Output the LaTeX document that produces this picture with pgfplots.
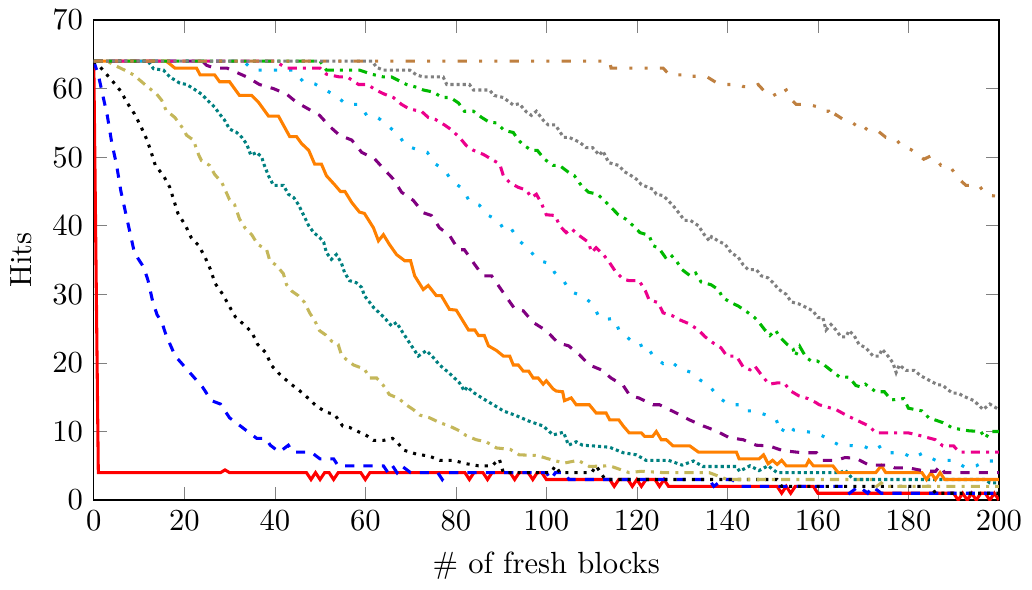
\documentclass[border=0pt]{standalone}
\usepackage{pgfplots}
\pgfplotsset{compat=1.18}
\definecolor{cOlive}{RGB}{196,183,90}
\definecolor{cTeal}{RGB}{0,128,128}
\definecolor{cOrange}{RGB}{255,128,0}
\definecolor{cViolet}{RGB}{128,0,128}
\definecolor{cCyan}{RGB}{0,176,240}
\definecolor{cMagenta}{RGB}{236,0,140}
\definecolor{cGreen}{RGB}{0,185,0}
\definecolor{cGray}{RGB}{128,128,128}
\definecolor{cBrown}{RGB}{191,128,64}
\begin{document}
\begin{tikzpicture}
\begin{axis}[
  scale only axis,
  width=296pt, height=157pt,
  xmin=0, xmax=200, ymin=0, ymax=70,
  xtick={0,20,...,200}, ytick={0,10,...,70},
  xlabel={\# of fresh blocks}, ylabel={Hits},
]
\addplot[line width=1pt, red] coordinates {(0,64)(1,4)(28,4)(29,4.4)(30,4)(47,4)(48,3)(49,4)(50,3)(51,4)(52,4)(53,3)(54,4)(59,4)(60,3)(61,4)(82,4)(83,3)(84,4)(86,4)(87,3)(88,4)(92,4)(93,3)(94,4)(96,4)(97,3)(98,4)(99,4)(100,3)(114,3)(115,2)(116,3)(118,3)(119,2)(120,3)(121,2)(122,3)(124,3)(125,2)(126,3)(127,2)(151,2)(152,1)(153,2)(154,1)(155,2)(159,2)(160,1)(190,1)(191,0)(192,1)(193,0)(194,1)(195,0)(196,1)(197,1)(198,0)(199,1)(200,0)};
\addplot[line width=1pt, blue, dashed] coordinates {(0,64)(1,62)(2,59)(3,56)(4,52)(5,49)(6,45)(7,42)(8,39)(9,36)(10,35)(11,34)(12,32)(13,29)(14,27)(15,26)(16,24)(17,22.5)(18,21)(20,19.5)(22,18)(24,16.5)(26,14.5)(28,14)(30,12)(32,11)(34,10)(36,9)(38,9)(39,8)(41,7)(43,8)(44,7)(48,7)(50,6)(53,6)(54,5)(56,5)(60,5)(64,5)(65,4)(66,5)(67,4)(68,5)(70,4)(76,4)(77,3)(78,4)(100,4)(101,3)(102,4)(104,4)(105,3)(136,3)(137,2)(139,3)(141,3)(143,2)(166,2)(167,1)(169,2)(171,1)(172,2)(174,1)(200,1)};
\addplot[line width=1pt, black, dotted] coordinates {(0,64)(1,63.5)(2,62.7)(4,61.2)(6,59.6)(7.4,57.9)(9,56.3)(10.4,54.5)(11.7,52.6)(12.6,50.9)(13.6,48.8)(15.4,47.3)(16.8,45.6)(17.7,43.7)(18.6,41.8)(20.3,40)(21.5,38.3)(23.2,37.1)(24.6,35.4)(25.8,33.6)(26.8,31.6)(28.5,30)(30,28.2)(31.3,26.7)(33,25.7)(34.9,24.5)(36.2,22.7)(38,21.5)(39.3,19.6)(41,18.4)(43.2,17.1)(45.4,16)(47.3,14.9)(49.2,13.7)(51.4,12.8)(53.2,12.5)(55,10.8)(56.5,10.6)(58.7,9.9)(60.3,9.4)(61.8,8.7)(64,8.7)(66,9)(67,8.5)(68.4,7.3)(71.3,6.7)(74.2,6.4)(76.4,5.8)(79.4,5.8)(82.3,5.3)(85,5)(88,5)(89.6,6)(90.5,4)(101,4)(102,5)(103,4)(110,4)(111,5)(112,4)(113,3)(151,3)(152,2)(185,2)(186,1)(200,1)};
\addplot[line width=1pt, cOlive, dashdotted] coordinates {(0,64)(3,64)(4.6,63.4)(6.8,62.7)(8.8,62)(12,60.2)(13.9,59.2)(15,58.3)(16,56.8)(17.9,55.8)(19.8,54.1)(20.5,53.2)(22,52.5)(23.2,50.3)(23.8,49.5)(25.6,48.8)(26.7,47.5)(28.3,46.3)(30,43.8)(31.1,43.1)(32.2,41)(33.4,39.7)(34.9,38.7)(36.2,37.3)(38.2,36.5)(38.9,34.9)(40.4,34.2)(41.9,33)(42.6,31.4)(43.7,30.5)(45.2,29.8)(46.6,28.8)(47.7,27.3)(48.8,26.2)(49.9,24.7)(51.2,24.1)(52.5,23.2)(54,22.7)(54.7,21.2)(55.8,20.5)(57.4,19.7)(59.8,19.1)(61,17.8)(62.5,17.8)(64,16.7)(65.3,15.4)(67.4,14.8)(69,13.9)(70.6,13.2)(72,12.4)(74.2,12)(76.4,11.3)(78.6,10.8)(80.8,10.1)(82.3,9.4)(84.5,8.8)(86.7,8.5)(89,7.6)(92,7.4)(94,6.6)(98,6.5)(101.5,5.8)(104,5.4)(107,5.8)(109.5,4.9)(114,5)(118.3,4)(121,4.2)(126,4)(136,4)(140,3)(172,3)(173,2)(174,2.5)(175,2)(200,2)};
\addplot[line width=1pt, cTeal, densely dotted] coordinates {(0,64)(12,64)(13.2,62.9)(15.4,62.7)(16.8,61.7)(19,60.8)(20.5,60.6)(22,60)(23.8,59.2)(25.6,58)(26.7,57.3)(27.8,56.3)(28.9,55.4)(30,54.1)(31.6,53.6)(32.7,52.9)(33.8,51.9)(34.7,50.3)(36,50.7)(37.1,50)(37.7,48.8)(38.6,47.3)(39.7,45.9)(41.9,45.9)(43,44.6)(44.2,44.1)(45.3,43)(46.4,41.5)(47.5,40)(48.6,39)(49.9,38.3)(50.8,37.6)(51.4,36.1)(52.5,35.1)(53.6,35.8)(54.7,34.6)(55.4,33.2)(56.5,32)(58,31.7)(59.2,31)(59.8,29.8)(61,28.8)(61.8,28.1)(63.1,27.3)(64.2,26.6)(65.8,25.4)(66.9,25.9)(68.2,24.5)(69.5,23.2)(71.7,21)(73.5,21.8)(75,20.8)(76.4,19.7)(78.4,18.6)(80.8,17.1)(81.9,15.9)(82.5,16.5)(84.1,15.6)(86,14.8)(88.3,13.9)(90.5,13)(93.4,12.3)(96.2,11.5)(99.3,10.8)(101.5,9.5)(103.8,9.9)(104.9,8)(106.6,8.5)(108,8)(110.4,7.9)(114,7.7)(117,6.9)(119.9,6.6)(122,5.8)(127,5.8)(130,5.1)(132.5,5.7)(134.6,4.9)(142,4.9)(142.7,4.2)(145,5)(147,4.3)(149,5)(151,4)(165,4)(166,4.4)(167.8,3)(197,3)(198,2.5)(200,2.5)};
\addplot[line width=1pt, cOrange] coordinates {(0,64)(16,64)(16.8,63.6)(17.9,63)(22.7,63)(23.5,62)(26.7,62)(27.8,61)(30,61)(31.1,60)(32.2,59)(34.9,59)(36.4,58)(38.6,56)(40.8,56)(43.3,53)(44.8,53)(45.9,52)(47.5,51)(48.8,49)(50.3,49)(51.4,47.3)(53.2,46)(54.5,45)(55.5,45)(57,43.4)(58.7,42)(59.8,41.8)(61.8,39.7)(62.9,37.8)(64,38.7)(65.3,37.3)(66.9,35.8)(68.7,34.9)(70,34.9)(70.9,32.7)(72.8,30.7)(73.9,31.3)(75.7,29.8)(76.8,29.8)(78.6,27.8)(80.1,27.7)(82.8,24.8)(84.2,24.8)(85,24)(86.3,24)(87.2,22.5)(89,21.8)(90.5,21)(91.9,21)(92.7,19.7)(93.8,19.7)(94.9,18.8)(96.1,18.8)(97.1,17.8)(98.2,17.8)(99.3,16.9)(100,17.4)(101.5,16.2)(102.2,15.9)(103.6,15.8)(104,14.5)(105.5,14.9)(106.6,13.9)(109.5,13.9)(111,12.7)(113.2,12.7)(114,11.7)(116,11.7)(117,10.8)(118.3,9.8)(121,9.8)(121.7,9.3)(123.5,9.3)(124.3,10)(125.4,8.8)(126.5,8.8)(128,7.9)(131.7,7.9)(133.6,7)(142,7)(142.6,6)(147,6)(148,6.6)(149,5.3)(150,5.8)(151,5.2)(152,5.8)(153,5)(157.4,5)(158,5.8)(159,5)(163.3,5)(164.5,4)(172.8,4)(174,5)(175,4)(183,4)(184,3)(185,4)(186,3)(187,4)(188,3)(200,3)};
\addplot[line width=1pt, cViolet, dashed] coordinates {(0,64)(24,64)(24.9,63.4)(26.7,63)(29.4,63)(33.8,61.7)(36.6,60.6)(39.7,60)(42.6,59.2)(44.8,58)(47.5,57)(49.9,56.1)(52.1,54.5)(54.3,53.2)(57,52.5)(59.2,50.7)(62,49.8)(64.2,48.2)(66.2,46.8)(68,44.9)(70.6,43.7)(72.8,41.9)(74.6,41.5)(76.4,39.7)(78.6,38.6)(80.6,36.5)(81.9,36.5)(83.9,34.6)(86,32.7)(87.9,32.7)(89.7,31)(91.6,29.2)(93,27.9)(94.9,27.6)(97.1,25.9)(100,24.7)(102.6,22.9)(104.9,22.5)(107.3,21.2)(109.5,19.7)(112.1,19)(114.3,17.8)(117,16.7)(118.5,15.2)(120.4,14.9)(123.6,13.9)(125,13.9)(128.7,12.7)(131.6,11.7)(134.7,10.8)(137.5,10.1)(140.4,9.1)(143.5,8.8)(146.4,8)(149.2,7.9)(152.3,7.2)(156.7,6.9)(159.7,6.9)(161,5.8)(164,5.8)(166,6.2)(168.4,6.1)(171.3,5.1)(175.7,5.1)(177,4.7)(180,4.7)(183.9,4.2)(186,4.2)(187,5)(188,4)(200,4)};
\addplot[line width=1pt, cCyan, loosely dotted] coordinates {(0,64)(33,64)(35.3,62.7)(44,62.7)(46.3,61)(48.8,60.7)(51.2,59.8)(53.6,58.9)(55.8,57.7)(58.7,57.7)(60.3,56.1)(62.9,55.7)(65.1,54.5)(67.3,53.3)(68.9,51.7)(71.5,51.1)(73.7,50.7)(75.3,49.1)(77.5,48.1)(79.2,46.5)(81.7,45.3)(83,43.5)(85.2,43)(87.2,41.5)(89.4,40.8)(90.8,39.2)(92.3,39.5)(94,37.8)(96,36.7)(97.6,35.4)(99.1,34.8)(100.7,34.5)(101.8,33.2)(103.8,32)(105.3,30.4)(107.9,29.8)(110.2,28.6)(111.5,26.9)(112.6,26.3)(115,26.5)(116.1,24.7)(118.3,23.5)(120.3,22.4)(121.9,22.8)(123.6,21)(125.8,19.9)(127.4,20.3)(129.6,19.1)(132.2,18.6)(134,17.5)(136,16.7)(138,15)(140.4,13.9)(143,13.9)(144,13)(146,13)(148.6,12.4)(150.8,11.7)(151.9,9.8)(153,11)(154.7,10.2)(159.6,9.8)(161.8,9.1)(164.7,8)(170,7.9)(172.2,7.2)(174,7.9)(175.8,6.9)(178.7,6.9)(181,6.1)(183,6.8)(186,5.8)(190,5.8)(192.7,4.7)(195,5)(197,5.7)(200,5.7)};
\addplot[line width=1pt, cMagenta, dashdotted] coordinates {(0,64)(40,64)(42.6,63)(50,63)(51.4,62.1)(54.3,61.7)(56,61.7)(58.5,60.6)(60.5,60.6)(62.3,59.8)(64.2,59.2)(66.2,58.7)(68,57.7)(69.8,57)(72.4,56.7)(73.9,55.8)(75.5,55.5)(77.5,54.7)(78.8,54.1)(80.8,52.9)(82.3,51.7)(83.9,51)(86.1,50.4)(87.9,49.7)(89.7,49)(90.5,47.3)(91.9,46.3)(93.8,45.6)(95.6,45.2)(96.7,44.1)(97.8,44.6)(98.9,43.3)(100,41.6)(102,41.5)(102.9,40)(104.4,39)(105.5,39.6)(107,38.7)(109.3,37.6)(110,36.1)(111,36.8)(112.6,35.8)(114,34.6)(115.3,33.3)(117,32.2)(118.3,32)(120.5,32)(121.9,30.5)(122.7,29.2)(124.7,28.8)(125.8,27.3)(127.8,26.9)(129.4,26.3)(131.6,25.7)(133.6,24.8)(135.1,23.8)(136.9,22.9)(138.6,22.2)(139.9,21)(142,21)(143.5,19.4)(145,19)(146,19.6)(147.7,18.1)(149.2,16.9)(151.2,17.1)(152.5,17.1)(154,15.9)(155.8,15.2)(157.8,14.8)(159.6,14.2)(160.3,13.9)(164,13.2)(166.2,12.4)(168.4,11.7)(171.3,10.8)(172.8,9.8)(180,9.8)(182,9.5)(186,8.8)(187.6,7.9)(190,7.9)(191.2,7)(200,7)};
\addplot[line width=1pt, cGreen, dashdotdotted] coordinates {(0,64)(50,64)(51.4,62.7)(58.7,62.7)(61.4,62.1)(64,61.7)(65.8,61.7)(67.3,61.2)(69.1,60.6)(71.3,60.2)(72.8,59.8)(75,59.5)(77,58.7)(78.8,58.7)(80.6,57.9)(81.9,56.7)(83.9,56.7)(85.7,55.8)(87.4,55.1)(89,55)(90.7,53.9)(92.7,53.6)(93.8,52.5)(95.1,51.7)(96.7,51)(98,51)(99.6,49.7)(101.5,48.8)(102.9,48.8)(104.9,47.8)(106.2,47.3)(107.7,45.9)(109.3,44.9)(111.3,44.6)(112.6,43.8)(114.3,42.7)(115.9,41.6)(117.5,41)(119.2,40)(120.7,39)(122.7,38.6)(123.6,37.1)(124.9,36.7)(126.3,35.4)(127.3,35.9)(128.7,34.9)(130,33.6)(131.8,32.7)(133,33.1)(134.2,31.8)(136.4,31.4)(138,30.7)(139,29.5)(140.8,28.8)(142.4,28.3)(144.2,27.5)(145.9,26.7)(147,25.9)(148.3,24.8)(149.4,24)(150.6,24.8)(151.7,23.7)(153.2,22.7)(154.5,22.1)(155,21)(156,22.4)(157.4,20.8)(158.5,20.3)(159.8,20.3)(161.4,19.7)(163.3,18.7)(164.7,18)(166.9,17.9)(168.4,16.7)(169.5,16.5)(170.5,16.9)(172.8,15.8)(174.7,15.8)(176.2,14.6)(179,14.8)(180,13.4)(183,13)(184.5,12)(187.6,11.3)(189.8,10.5)(193.4,10.1)(196,10)(197,9)(198,10)(200,10)};
\addplot[line width=1pt, cGray, densely dotted] coordinates {(0,64)(61.5,64)(62.5,63.1)(64,62.7)(69.8,62.7)(71.3,62)(72.8,61.7)(77.2,61.7)(78,60.6)(83,60.6)(83.9,59.8)(87.4,59.8)(88.5,59)(90.5,58.7)(91.9,58)(92.7,57.6)(94,57.8)(95.6,56.6)(96.7,56.1)(97.8,56.7)(99.3,55.4)(100.4,54.7)(102,54.7)(103.8,52.9)(105,52.9)(107.3,52.2)(108.8,51.4)(110.2,51.4)(111.7,50.3)(112.5,50.9)(113.8,49.2)(116,48.8)(117.2,47.9)(118.3,47.5)(119.9,46.8)(121,46)(122.5,45.6)(123.6,45.3)(124.3,44.6)(125.8,44.4)(126.9,43.7)(128.3,42.7)(129.5,41.7)(130.5,40.8)(131.8,40.8)(133.6,40)(134.9,38.7)(136,37.8)(136.5,38.4)(138.2,37.7)(139.5,37.3)(140.8,36.1)(142.4,35.4)(143.5,34.3)(144.6,33.6)(146.4,33.6)(147.5,32.7)(149,32.4)(150.1,31.7)(151.4,30.7)(153,30)(154.1,28.9)(155.8,28.6)(157.4,28.1)(158.9,27.6)(160,26.6)(161.1,26.6)(161.8,24.8)(162.9,25.6)(164,24.8)(165.1,23.8)(166.2,23.8)(166.9,24.7)(168,24)(169.1,22.7)(170.6,22.2)(172.2,21)(173.5,21)(174.2,22)(175.5,21)(176.6,20)(177.3,18.6)(178,19.7)(179.5,18.9)(181.3,18.9)(182.8,18.1)(184.5,17.5)(186.5,16.8)(187.5,16.8)(188.7,16.1)(189.8,15.6)(191,15.6)(192,15.2)(193.4,14.8)(194.5,14.5)(196.5,13.2)(198,14)(200,13.2)};
\addplot[line width=1pt, cBrown, loosely dashdotdotted] coordinates {(0,64)(114,64)(114.3,63)(125.8,63)(127.2,62)(130.5,62)(130.6,61.8)(135.3,61.8)(137.5,60.9)(139,60.6)(142.6,60.6)(143.5,60.3)(145.5,60.2)(146.8,60.6)(148.2,59.6)(150,59.6)(150.8,58.7)(151.5,59.2)(153,59.8)(153.7,58.7)(155.2,57.7)(157.8,57.7)(159.6,57.4)(161.1,56.7)(162.4,56.7)(163.4,55.5)(164,56.2)(165.6,55.5)(167.3,55.2)(168.9,54.4)(169.5,54.8)(171.1,53.9)(173.3,53.8)(175,52.9)(177.3,52.6)(178.4,51.7)(180.6,51.1)(182.1,50.4)(183.4,49.7)(185,50.2)(186.1,49.7)(187.2,48.8)(189,48.8)(190.1,47.8)(191.2,46.8)(192.7,45.9)(195.6,45.9)(196.7,44.9)(198.2,44.4)(200,44.3)};
\end{axis}
\end{tikzpicture}
\end{document}
